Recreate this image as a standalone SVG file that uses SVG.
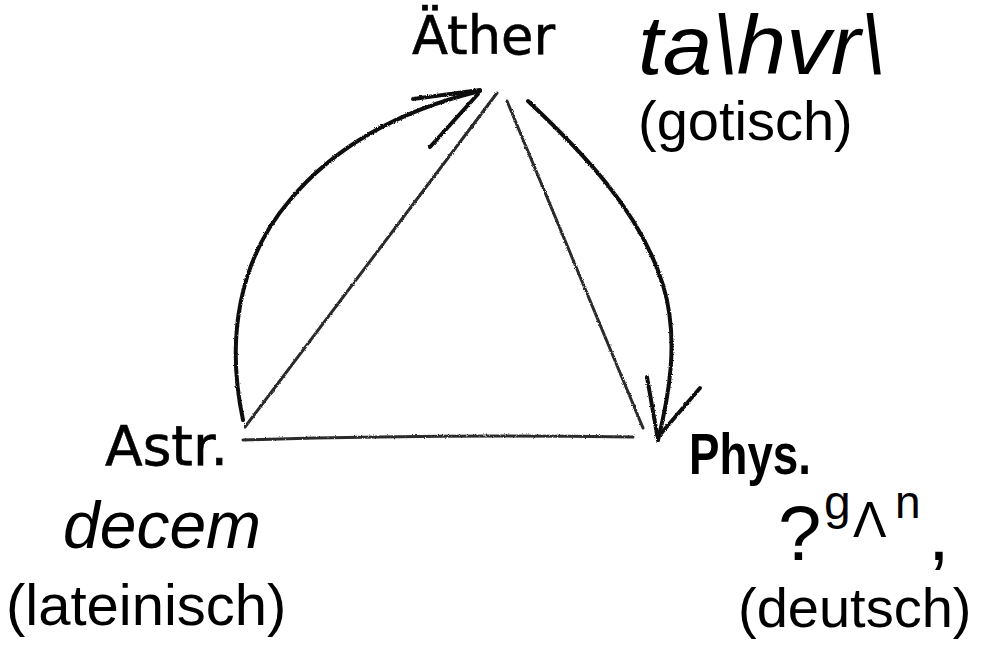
<svg xmlns="http://www.w3.org/2000/svg" width="986" height="645" viewBox="0 0 986 645">
  <style>
    .hand { font-family: "DejaVu Sans", "Liberation Sans", sans-serif; fill: #000; stroke: #000; stroke-width: 0.6; }
    .lbl { font-family: "Liberation Sans", Arial, sans-serif; fill: #000; }
    .it { font-style: italic; }
    .pen { fill: none; stroke: #111; stroke-width: 4; stroke-linecap: round; stroke-linejoin: round; }
    .pencil { fill: none; stroke: #2a2a2a; stroke-width: 3; stroke-linecap: round; }
  </style>
  <defs>
    <filter id="rough" x="-5%" y="-5%" width="110%" height="110%">
      <feTurbulence type="fractalNoise" baseFrequency="0.9" numOctaves="2" seed="3" result="n"/>
      <feDisplacementMap in="SourceGraphic" in2="n" scale="2.5" xChannelSelector="R" yChannelSelector="G"/>
    </filter>
  </defs>
  <rect width="986" height="645" fill="#fff"/>

  <g id="connectors" filter="url(#rough)">
    <path class="pen" d="M243,420 C226,340 238,260 290,200 C340,140 410,108 480,91"/>
    <path class="pen" d="M413,99 L480,90"/>
    <path class="pen" d="M430,147 L478,94"/>
    <path class="pencil" d="M245,427 L497,93"/>
    <path class="pencil" d="M507,101 L643,428"/>
    <path class="pen" d="M528,101 C580,150 640,210 663,285 C680,340 668,400 658,440"/>
    <path class="pen" d="M647,377 L658,440"/>
    <path class="pen" d="M700,388 L658,437"/>
    <path class="pencil" d="M243,440 Q440,434 633,437"/>
  </g>

  <g id="aether">
    <text class="hand" x="412" y="54" font-size="54" textLength="143" lengthAdjust="spacingAndGlyphs">Äther</text>
  </g>
  <g id="astr">
    <text class="hand" x="105" y="465" font-size="56" textLength="123" lengthAdjust="spacingAndGlyphs">Astr.</text>
  </g>
  <g id="phys">
    <text class="lbl" x="689" y="474" font-size="58" font-weight="bold" textLength="122" lengthAdjust="spacingAndGlyphs">Phys.</text>
  </g>

  <g id="gothic">
    <text class="lbl it" x="638" y="74" font-size="84" textLength="247" lengthAdjust="spacingAndGlyphs">ta\hvr\</text>
    <text class="lbl" x="638" y="140" font-size="56">(gotisch)</text>
  </g>
  <g id="latin">
    <text class="lbl it" x="63" y="548" font-size="66">decem</text>
    <text class="lbl" x="6" y="625" font-size="58">(lateinisch)</text>
  </g>
  <g id="german">
    <text class="lbl" x="778" y="560" font-size="78">?</text>
    <text class="lbl" x="824" y="519" font-size="48">g</text>
    <text class="lbl" x="853" y="537" font-size="50">Λ</text>
    <text class="lbl" x="895" y="518" font-size="46">n</text>
    <text class="lbl" x="928" y="560" font-size="78">,</text>
    <text class="lbl" x="738" y="627" font-size="56">(deutsch)</text>
  </g>
</svg>
